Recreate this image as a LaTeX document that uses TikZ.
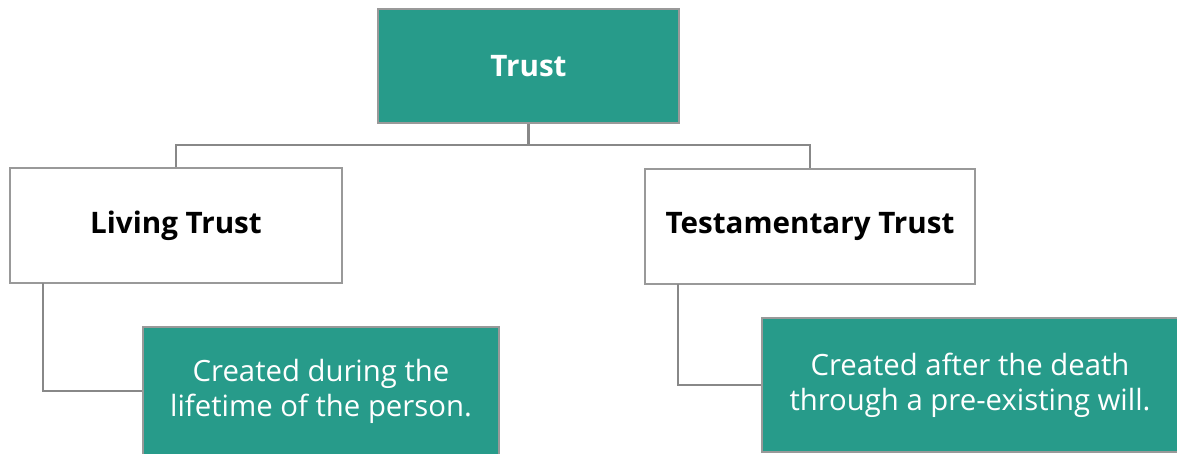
\documentclass[tikz,border=0pt]{standalone}
\usepackage{fontspec}
\setmainfont{Open Sans}
\definecolor{tealfill}{HTML}{279B8A}
\definecolor{bordergray}{HTML}{999999}
\definecolor{linegray}{HTML}{888888}
\begin{document}
\begin{tikzpicture}[x=1pt,y=-1pt,
  box/.style={draw=bordergray,line width=2.4pt,rectangle,inner sep=0pt,align=center},
  tealbox/.style={box,fill=tealfill,text=white},
  whitebox/.style={box,fill=white,text=black},
  headtext/.style={font=\bfseries\fontsize{29.6}{35}\selectfont},
  bodytext/.style={font=\fontsize{29.3}{35}\selectfont},
  conn/.style={draw=linegray,line width=2.6pt}]
\useasboundingbox (0,0) rectangle (1177,453);
\clip (0,0) rectangle (1177,453);
\node[tealbox,headtext,minimum width=301pt,minimum height=114pt] (trust) at (528.5,66) {Trust};
\node[whitebox,headtext,minimum width=332pt,minimum height=115pt] (living) at (176,225.5) {Living Trust};
\node[whitebox,headtext,minimum width=330pt,minimum height=115pt] (testa) at (810,226.5) {Testamentary Trust};
\node[tealbox,bodytext,minimum width=356pt,minimum height=128pt] (during) at (321,391) {Created during the\\lifetime of the person.};
\node[tealbox,bodytext,minimum width=416pt,minimum height=134pt] (after) at (970,385) {Created after the death\\through a pre-existing will.};
\coordinate (mid) at (528.5,145);
\coordinate (lelb) at (43,283);
\coordinate (relb) at (678,284);
\draw[conn] (trust.south) -- (mid) -| (living.north);
\draw[conn] (mid) -| (testa.north);
\draw[conn] (lelb) |- (during.west);
\draw[conn] (relb) |- (after.west);
\end{tikzpicture}
\end{document}
